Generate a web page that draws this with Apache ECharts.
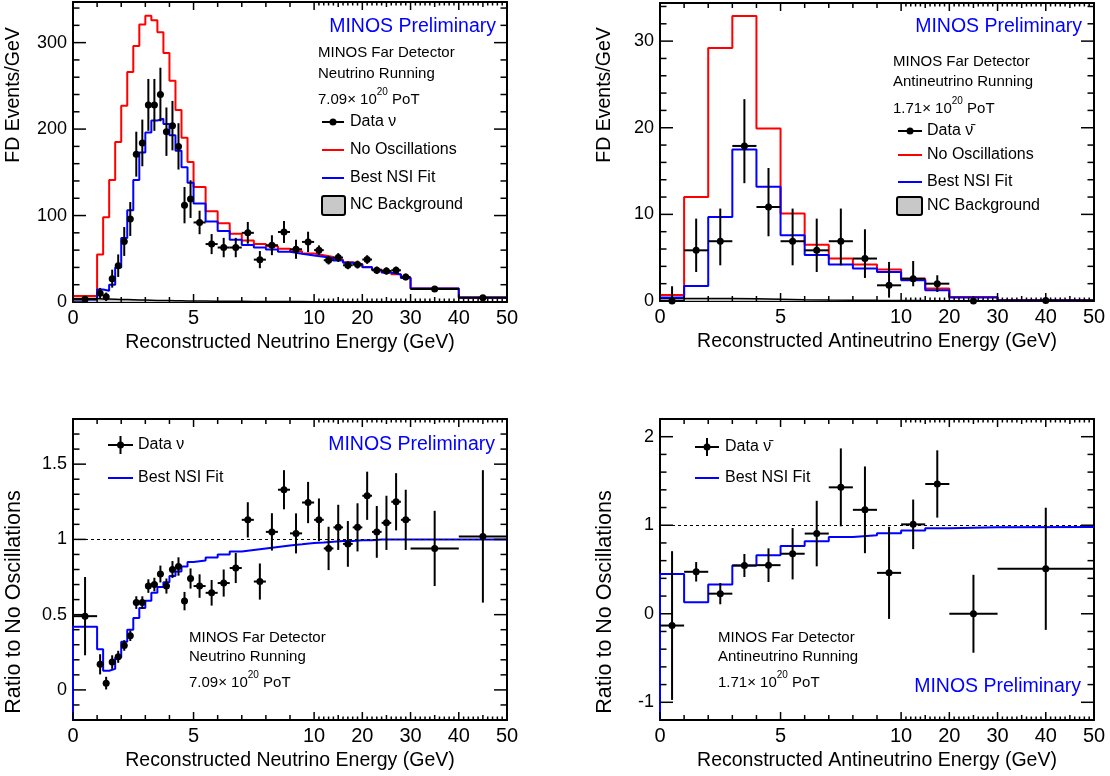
<!DOCTYPE html>
<html>
<head>
<meta charset="utf-8">
<script src="https://cdn.jsdelivr.net/npm/echarts@6/dist/echarts.min.js"></script>
<style>
  html, body { margin: 0; padding: 0; background: #fff; }
  #main { width: 1110px; height: 776px; }
</style>
</head>
<body>
<div id="main"></div>
<script>
// ---- neutrino running: bin edges (GeV) and contents (events/GeV) ----
const nuEdges = [0, 1, 1.25, 1.5, 1.75, 2, 2.25, 2.5, 2.75, 3, 3.25, 3.5, 3.75, 4, 4.25, 4.5, 4.75, 5,
  5.5, 6, 6.5, 7, 7.5, 8, 8.5, 9, 9.5, 10, 12, 14, 16, 18, 20, 22, 24, 26, 28, 30, 40, 50]
const nuNoOsc = [6.8, 55, 98, 141, 185, 227, 266, 296, 321, 331, 326, 312, 288, 256, 222, 190, 162,
  133, 105, 91, 79, 71, 67, 64.5, 61.5, 58.7, 56, 54, 52, 49, 46, 43.7, 40.6, 37.5, 34.4, 32, 28, 15.5, 5.1]
const nuFit = [2.8, 14.5, 13, 20, 40, 74, 106, 141, 173, 196, 210, 212, 206, 193, 175, 156, 138,
  114, 93, 82, 72, 66, 63, 60.6, 58, 55.8, 53.8, 52.4, 50.7, 48, 45.3, 43.3, 40.2, 37.1, 34, 31.7, 27.7, 15.5, 5.1]
const nuNC = [4, 3.6, 3.4, 3.2, 3.0, 2.8, 2.6, 2.4, 2.2, 2.0, 1.8, 1.7, 1.6, 1.5, 1.4, 1.3, 1.2,
  1.1, 1.0, 0.9, 0.8, 0.7, 0.6, 0.55, 0.5, 0.45, 0.4, 0.35, 0.3, 0.25, 0.2, 0.2, 0.15, 0.15, 0.1, 0.1, 0.1, 0.05, 0.05]
const nuData = [3.3, 10, 6, 27, 42, 70, 96, 171, 184, 228, 228, 240, 197, 204, 180, 112, 119,
  92, 67, 63, 63, 80, 49, 65.7, 81, 61, 69.5, 60, 48.3, 51.4, 42.5, 43.3, 49.1, 36.7, 35.9, 36.7, 29, 14.9, 4.9]
const nuDataErr = [1.8, 6.3, 4.9, 10.4, 13, 16.7, 19.6, 26, 27, 30, 30, 31, 28, 28.6, 26.8, 21, 21.8,
  13.6, 11.6, 11.2, 11.2, 12.6, 9.9, 11.5, 12.7, 11, 11.8, 5.5, 4.9, 5.1, 4.6, 4.6, 5, 4.3, 4.2, 4.3, 3.8, 1.2, 0.7]
const nuRatio = [0.49, 0.17, 0.045, 0.185, 0.22, 0.295, 0.36, 0.58, 0.58, 0.69, 0.70, 0.77, 0.69, 0.80, 0.82, 0.59, 0.74,
  0.69, 0.645, 0.71, 0.81, 1.13, 0.72, 1.05, 1.33, 1.04, 1.245, 1.13, 0.94, 1.08, 0.97, 1.08, 1.29, 1.05, 1.11, 1.25, 1.13, 0.94, 1.02]
const nuRatioErr = [0.26, 0.067, 0.042, 0.045, 0.04, 0.035, 0.035, 0.042, 0.042, 0.045, 0.045, 0.056, 0.05, 0.056, 0.061, 0.061, 0.067,
  0.078, 0.085, 0.09, 0.1, 0.117, 0.12, 0.124, 0.13, 0.133, 0.137, 0.142, 0.144, 0.15, 0.152, 0.16, 0.16, 0.172, 0.18, 0.19, 0.2, 0.25, 0.44]
const nuRatioFit = [0.42, 0.27, 0.127, 0.14, 0.216, 0.32, 0.40, 0.478, 0.545, 0.593, 0.645, 0.683, 0.716, 0.756, 0.787, 0.82, 0.85,
  0.86, 0.88, 0.90, 0.92, 0.93, 0.94, 0.95, 0.96, 0.967, 0.976, 0.98, 0.985, 0.99, 0.99, 0.995, 0.995, 1, 1, 1, 1, 1, 1]

// ---- antineutrino running ----
const nubarEdges = [0, 1, 2, 3, 4, 5, 6, 7, 8, 9, 10, 15, 20, 30, 50]
const nubarNoOsc = [0.7, 12.0, 29.2, 32.9, 19.9, 10.1, 6.5, 4.9, 4.2, 3.65, 2.58, 1.43, 0.46, 0.08]
const nubarFit = [0.4, 1.73, 9.7, 17.5, 13.2, 7.6, 5.3, 4.2, 3.74, 3.35, 2.39, 1.24, 0.39, 0.06]
const nubarNC = [0.3, 0.3, 0.3, 0.25, 0.2, 0.15, 0.12, 0.1, 0.08, 0.07, 0.05, 0.04, 0.03, 0.02]
const nubarData = [0, 5.85, 6.9, 17.9, 10.85, 6.9, 5.85, 6.9, 4.9, 1.81, 2.58, 2.0, 0, 0.05]
const nubarErrLo = [0, 2.5, 2.78, 4.3, 3.38, 2.78, 2.5, 2.78, 2.24, 1.42, 0.88, 0.96, 0, 0.04]
const nubarErrHi = [1.7, 3.66, 3.77, 5.4, 4.5, 3.77, 3.66, 3.77, 3.38, 2.7, 2.04, 0.97, 0, 0.1]
const nubarRatio = [-0.133, 0.474, 0.227, 0.545, 0.549, 0.678, 0.906, 1.428, 1.174, 0.462, 1.01, 1.466, 0, 0.508]
const nubarRatioErr = [0.84, 0.11, 0.12, 0.13, 0.19, 0.29, 0.37, 0.44, 0.49, 0.52, 0.28, 0.38, 0.44, 0.69]
const nubarRatioFit = [0.45, 0.13, 0.33, 0.545, 0.66, 0.765, 0.82, 0.867, 0.886, 0.91, 0.94, 0.966, 0.977, 0.98]

// ---- ticks ----
const xMajorTicks = [0, 5, 10, 20, 30, 40, 50]
const xMidTicks = [1, 2, 3, 4, 6, 7, 8, 9, 15, 25, 35, 45]
const xFineTicks = [11, 12, 13, 14, 16, 17, 18, 19, 21, 22, 23, 24, 26, 27, 28, 29,
  31, 32, 33, 34, 36, 37, 38, 39, 41, 42, 43, 44, 46, 47, 48, 49]
const nuYMajor = [0, 100, 200, 300]
const nuYMinor = [20, 40, 60, 80, 120, 140, 160, 180, 220, 240, 260, 280, 320, 340]
const nubarYMajor = [0, 10, 20, 30]
const nubarYMinor = [2, 4, 6, 8, 12, 14, 16, 18, 22, 24, 26, 28, 32, 34]
const nuRatioYMajor = [0, 0.5, 1, 1.5]
const nuRatioYMinor = [-0.1, 0.1, 0.2, 0.3, 0.4, 0.6, 0.7, 0.8, 0.9, 1.1, 1.2, 1.3, 1.4, 1.6, 1.7]
const nubarRatioYMajor = [-1, 0, 1, 2]
const nubarRatioYMinor = [-0.8, -0.6, -0.4, -0.2, 0.2, 0.4, 0.6, 0.8, 1.2, 1.4, 1.6, 1.8]

const font = "'Liberation Sans', Arial, Helvetica, sans-serif"
const RED = '#ff0000'
const BLUE = '#0000ff'

// energy axis: linear 0-10 GeV, compressed x5 from 10 to 50 GeV
const toDisp = e => (e <= 10 ? e : 10 + (e - 10) / 5)
const fromDisp = d => (d <= 10 ? d : 10 + (d - 10) * 5)

const panels = [
  { left: 73, top: 2, height: 300, yMin: 0, yMax: 347, yMajor: nuYMajor, yMinor: nuYMinor,
    xName: 'Reconstructed Neutrino Energy (GeV)' },
  { left: 660, top: 3, height: 298, yMin: 0, yMax: 34.4, yMajor: nubarYMajor, yMinor: nubarYMinor,
    xName: 'Reconstructed Antineutrino Energy (GeV)' },
  { left: 73, top: 419, height: 301, yMin: -0.2, yMax: 1.8, yMajor: nuRatioYMajor, yMinor: nuRatioYMinor,
    xName: 'Reconstructed Neutrino Energy (GeV)' },
  { left: 660, top: 419, height: 301, yMin: -1.2, yMax: 2.2, yMajor: nubarRatioYMajor, yMinor: nubarRatioYMinor,
    xName: 'Reconstructed Antineutrino Energy (GeV)' }
]

const frameLine = { show: true, onZero: false, lineStyle: { color: '#000', width: 2 } }
const grids = []
const xAxes = []
const yAxes = []
panels.forEach((p, g) => {
  grids.push({ left: p.left, top: p.top, width: 434, height: p.height })
  xAxes.push({
    type: 'value', gridIndex: g, position: 'bottom', min: 0, max: 18,
    splitLine: { show: false }, axisLine: frameLine, axisTick: { show: false },
    axisLabel: {
      show: true, customValues: xMajorTicks.map(toDisp),
      formatter: v => String(Math.round(fromDisp(v))),
      color: '#000', fontSize: 20, fontFamily: font, margin: 6
    },
    name: p.xName, nameLocation: 'middle', nameGap: 31,
    nameTextStyle: { color: '#000', fontSize: 19.5, fontFamily: font }
  })
  xAxes.push({
    type: 'value', gridIndex: g, position: 'top', min: 0, max: 18,
    splitLine: { show: false }, axisLine: frameLine, axisTick: { show: false }, axisLabel: { show: false }
  })
  yAxes.push({
    type: 'value', gridIndex: g, position: 'left', min: p.yMin, max: p.yMax,
    splitLine: { show: false }, axisLine: frameLine, axisTick: { show: false },
    axisLabel: { show: true, customValues: p.yMajor, color: '#000', fontSize: 18, fontFamily: font, margin: 6 }
  })
  yAxes.push({
    type: 'value', gridIndex: g, position: 'right', min: p.yMin, max: p.yMax,
    splitLine: { show: false }, axisLine: frameLine, axisTick: { show: false }, axisLabel: { show: false }
  })
})

// histogram outline points for a step line
function histPoints (edges, vals, base) {
  const pts = []
  if (base !== undefined) pts.push([toDisp(edges[0]), base])
  vals.forEach((v, i) => pts.push([toDisp(edges[i]), v]))
  pts.push([toDisp(edges[edges.length - 1]), vals[vals.length - 1]])
  return pts
}

function histSeries (g, edges, vals, color, base, extra) {
  return Object.assign({
    type: 'line', step: 'end', xAxisIndex: g * 2, yAxisIndex: g * 2,
    data: histPoints(edges, vals, base), symbol: 'none',
    lineStyle: { color: color, width: 2 }, itemStyle: { color: color }
  }, extra || {})
}

// data points with error bars: [centre, value, errLow, errHigh, binLow, binHigh]
function pointRows (edges, vals, lo, hi) {
  return vals.map((v, i) => {
    const a = edges[i]
    const b = edges[i + 1]
    return [toDisp((a + b) / 2), v, lo[i], hi[i], toDisp(a), toDisp(b)]
  })
}

function pointSeries (g, rows) {
  return {
    type: 'custom', xAxisIndex: g * 2, yAxisIndex: g * 2, data: rows, z: 4,
    encode: { x: 0, y: 1 },
    renderItem: function (params, api) {
      const cs = params.coordSys
      const clampY = v => Math.min(Math.max(v, cs.y), cs.y + cs.height)
      const y = api.value(1)
      const c = api.coord([api.value(0), y])
      const l = api.coord([api.value(4), y])
      const r = api.coord([api.value(5), y])
      const t = api.coord([api.value(0), y + api.value(3)])
      const b = api.coord([api.value(0), y - api.value(2)])
      const cy = clampY(c[1])
      return {
        type: 'group',
        children: [
          { type: 'line', shape: { x1: l[0], y1: cy, x2: r[0], y2: cy }, style: { stroke: '#000', lineWidth: 2 } },
          { type: 'line', shape: { x1: c[0], y1: clampY(t[1]), x2: c[0], y2: clampY(b[1]) }, style: { stroke: '#000', lineWidth: 2 } },
          { type: 'circle', shape: { cx: c[0], cy: cy, r: 3.5 }, style: { fill: '#000' } }
        ]
      }
    }
  }
}

// frame ticks (ROOT style, inside, mirrored on all four sides)
const tickLen = [8, 5, 3.5, 13, 6.5]
function tickRows (p) {
  const rows = []
  xMajorTicks.forEach(e => rows.push([toDisp(e), p.yMin, 0]))
  xMidTicks.forEach(e => rows.push([toDisp(e), p.yMin, 1]))
  xFineTicks.forEach(e => rows.push([toDisp(e), p.yMin, 2]))
  p.yMajor.forEach(v => rows.push([0, v, 3]))
  p.yMinor.forEach(v => rows.push([0, v, 4]))
  return rows
}
function tickSeries (g, p) {
  return {
    type: 'custom', xAxisIndex: g * 2, yAxisIndex: g * 2, data: tickRows(p), z: 5, silent: true,
    encode: { x: 0, y: 1 },
    renderItem: function (params, api) {
      const cs = params.coordSys
      const kind = api.value(2)
      const len = tickLen[kind]
      const pt = api.coord([api.value(0), api.value(1)])
      const st = { stroke: '#000', lineWidth: 1.5 }
      let a, b
      if (kind < 3) {
        const x = pt[0]
        const bot = cs.y + cs.height
        a = { x1: x, y1: bot, x2: x, y2: bot - len }
        b = { x1: x, y1: cs.y, x2: x, y2: cs.y + len }
      } else {
        const y = pt[1]
        const right = cs.x + cs.width
        a = { x1: cs.x, y1: y, x2: cs.x + len, y2: y }
        b = { x1: right, y1: y, x2: right - len, y2: y }
      }
      return { type: 'group', children: [
        { type: 'line', shape: a, style: st },
        { type: 'line', shape: b, style: st }
      ] }
    }
  }
}

const ncStyle = { lineStyle: { color: '#000', width: 1.5 }, areaStyle: { color: '#c8c8c8', opacity: 1 } }
const unityLine = {
  markLine: {
    silent: true, symbol: ['none', 'none'], label: { show: false },
    lineStyle: { color: '#000', type: [3, 3], width: 1 },
    data: [{ yAxis: 1 }]
  }
}

const series = [
  histSeries(0, nuEdges, nuNC, '#000', undefined, ncStyle),
  histSeries(0, nuEdges, nuNoOsc, RED),
  histSeries(0, nuEdges, nuFit, BLUE),
  pointSeries(0, pointRows(nuEdges, nuData, nuDataErr, nuDataErr)),

  histSeries(1, nubarEdges, nubarNC, '#000', undefined, ncStyle),
  histSeries(1, nubarEdges, nubarNoOsc, RED),
  histSeries(1, nubarEdges, nubarFit, BLUE),
  pointSeries(1, pointRows(nubarEdges, nubarData, nubarErrLo, nubarErrHi)),

  histSeries(2, nuEdges, nuRatioFit, BLUE, -0.2, unityLine),
  pointSeries(2, pointRows(nuEdges, nuRatio, nuRatioErr, nuRatioErr)),

  histSeries(3, nubarEdges, nubarRatioFit, BLUE, -1.2, unityLine),
  pointSeries(3, pointRows(nubarEdges, nubarRatio, nubarRatioErr, nubarRatioErr))
]
panels.forEach((p, g) => series.push(tickSeries(g, p)))

// ---- text and legend boxes ----
function txt (x, y, text, size, color, align) {
  return { type: 'text', x: x, y: y, style: { text: text, fill: color || '#000', fontSize: size, fontFamily: font,
    align: align || 'left', verticalAlign: 'middle' } }
}
function potText (x, y, value) {
  return { type: 'text', x: x, y: y, style: {
    text: '{a|' + value + '\u00d7 10}{s|20}{a| PoT}', fill: '#000', verticalAlign: 'middle',
    rich: { a: { fontSize: 15, fontFamily: font, lineHeight: 20, verticalAlign: 'bottom' },
      s: { fontSize: 10, fontFamily: font, lineHeight: 20, verticalAlign: 'top' } } } }
}
function yTitle (x, y, text, size) {
  return { type: 'text', x: x, y: y, rotation: Math.PI / 2,
    style: { text: text, fill: '#000', fontSize: size, fontFamily: font, align: 'center', verticalAlign: 'middle' } }
}
function seg (x1, y, x2, color) {
  return { type: 'line', shape: { x1: x1, y1: y, x2: x2, y2: y }, style: { stroke: color, lineWidth: 2 } }
}
function dot (x, y) { return { type: 'circle', shape: { cx: x, cy: y, r: 3.5 }, style: { fill: '#000' } } }
function vbar (x, y1, y2) {
  return { type: 'line', shape: { x1: x, y1: y1, x2: x, y2: y2 }, style: { stroke: '#000', lineWidth: 2 } }
}
function ncBox (x, y, w, h) {
  return { type: 'rect', shape: { x: x, y: y, width: w, height: h, r: 2 },
    style: { fill: '#c8c8c8', stroke: '#000', lineWidth: 2 } }
}

const graphic = [
  yTitle(14, 95, 'FD Events/GeV', 19.5),
  yTitle(605, 95, 'FD Events/GeV', 19.5),
  yTitle(14, 602, 'Ratio to No Oscillations', 21.5),
  yTitle(605, 602, 'Ratio to No Oscillations', 21.5),

  // top left
  txt(496, 27, 'MINOS Preliminary', 19.5, BLUE, 'right'),
  txt(318, 53, 'MINOS Far Detector', 15),
  txt(318, 74, 'Neutrino Running', 15),
  potText(318, 97, '7.09'),
  seg(322, 122, 344, '#000'), dot(333, 122), txt(350, 122, 'Data \u03bd', 16),
  seg(322, 150, 344, RED), txt(350, 150, 'No Oscillations', 16),
  seg(322, 178, 344, BLUE), txt(350, 178, 'Best NSI Fit', 16),
  ncBox(322, 196, 23, 19), txt(350, 205, 'NC Background', 16),

  // top right
  txt(1082, 27, 'MINOS Preliminary', 19.5, BLUE, 'right'),
  txt(893, 62, 'MINOS Far Detector', 15),
  txt(893, 82, 'Antineutrino Running', 15),
  potText(893, 106, '1.71'),
  seg(898, 131, 922, '#000'), dot(910, 131), txt(927, 131, 'Data \u03bd\u0304', 16),
  seg(898, 155, 922, RED), txt(927, 155, 'No Oscillations', 16),
  seg(898, 182, 922, BLUE), txt(927, 182, 'Best NSI Fit', 16),
  ncBox(897, 197, 25, 18), txt(927, 206, 'NC Background', 16),

  // bottom left
  seg(108, 445, 133, '#000'), vbar(120.5, 436, 454), dot(120.5, 445), txt(138, 445, 'Data \u03bd', 16),
  seg(108, 478, 133, BLUE), txt(138, 478, 'Best NSI Fit', 16),
  txt(495, 445, 'MINOS Preliminary', 19.5, BLUE, 'right'),
  txt(189, 638, 'MINOS Far Detector', 15),
  txt(189, 657, 'Neutrino Running', 15),
  potText(189, 680, '7.09'),

  // bottom right
  seg(695, 447, 719, '#000'), vbar(707, 438, 456), dot(707, 447), txt(725, 447, 'Data \u03bd\u0304', 16),
  seg(695, 478, 719, BLUE), txt(725, 478, 'Best NSI Fit', 16),
  txt(718, 638, 'MINOS Far Detector', 15),
  txt(718, 657, 'Antineutrino Running', 15),
  potText(718, 680, '1.71'),
  txt(1081, 687, 'MINOS Preliminary', 19.5, BLUE, 'right')
]

const chart = echarts.init(document.getElementById('main'))
chart.setOption({
  animation: false,
  backgroundColor: '#fff',
  grid: grids,
  xAxis: xAxes,
  yAxis: yAxes,
  series: series,
  graphic: graphic
})
</script>
</body>
</html>
